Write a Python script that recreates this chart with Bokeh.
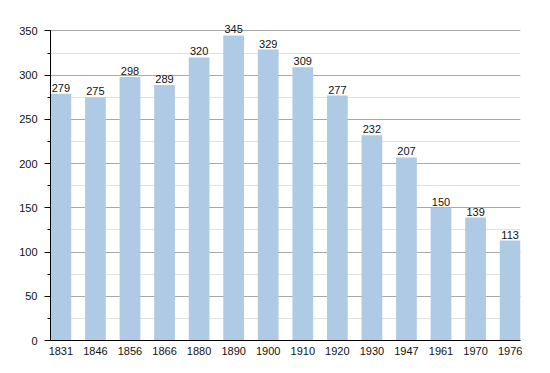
from bokeh.plotting import figure
from bokeh.models import Range1d, SingleIntervalTicker, FixedTicker, ColumnDataSource
from bokeh.core.properties import value
from bokeh.embed import file_html
from bokeh.resources import INLINE

years = ["1831", "1846", "1856", "1866", "1880", "1890", "1900", "1910", "1920", "1930", "1947", "1961", "1970", "1976"]
population = [279, 275, 298, 289, 320, 345, 329, 309, 277, 232, 207, 150, 139, 113]
y_max = 350

xs = list(range(len(years)))
src = ColumnDataSource(dict(x=xs, top=population, label=[str(v) for v in population]))

p = figure(width=534, height=357, output_backend="svg", toolbar_location=None,
           x_range=Range1d(-0.3, len(years) - 0.7), y_range=Range1d(0, 372),
           min_border_left=50, min_border_right=14, min_border_top=11, min_border_bottom=14)
p.outline_line_color = None
p.background_fill_color = "white"
p.border_fill_color = "white"

p.vbar(x="x", top="top", width=0.6, bottom=0, source=src, fill_color="#afcae5", line_color=None)
p.text(x="x", y="top", text="label", source=src, text_align="center", text_baseline="bottom",
       y_offset=-2, text_font=value("Liberation Sans"), text_font_size="11px", text_color="#111111")

p.xaxis.ticker = FixedTicker(ticks=xs)
p.xaxis.major_label_overrides = {i: y for i, y in enumerate(years)}
p.xaxis.major_tick_line_color = None
p.xaxis.minor_tick_line_color = None
p.xaxis.axis_line_color = "black"
p.xaxis.major_label_text_font = "Liberation Sans"
p.xaxis.major_label_text_font_size = "11px"
p.xaxis.major_label_text_color = "#111111"
p.xaxis.major_label_standoff = 0
p.xgrid.grid_line_color = None

yt = SingleIntervalTicker(interval=50, num_minor_ticks=2)
p.yaxis.ticker = yt
p.yaxis.bounds = (0, y_max)
p.yaxis.axis_line_color = "black"
p.yaxis.major_tick_line_color = "black"
p.yaxis.major_tick_out = 6
p.yaxis.major_tick_in = 0
p.yaxis.minor_tick_line_color = "black"
p.yaxis.minor_tick_out = 3
p.yaxis.minor_tick_in = 0
p.yaxis.major_label_text_font = "Liberation Sans"
p.yaxis.major_label_text_font_size = "11px"
p.yaxis.major_label_text_color = "#111111"
p.yaxis.major_label_standoff = 7
p.ygrid.ticker = yt
p.ygrid.bounds = (0, y_max)
p.ygrid.grid_line_color = "#a8a8a8"
p.ygrid.minor_grid_line_color = "#e2e2e2"
p.ygrid.level = "underlay"

open("out.html", "w").write(file_html(p, INLINE))
